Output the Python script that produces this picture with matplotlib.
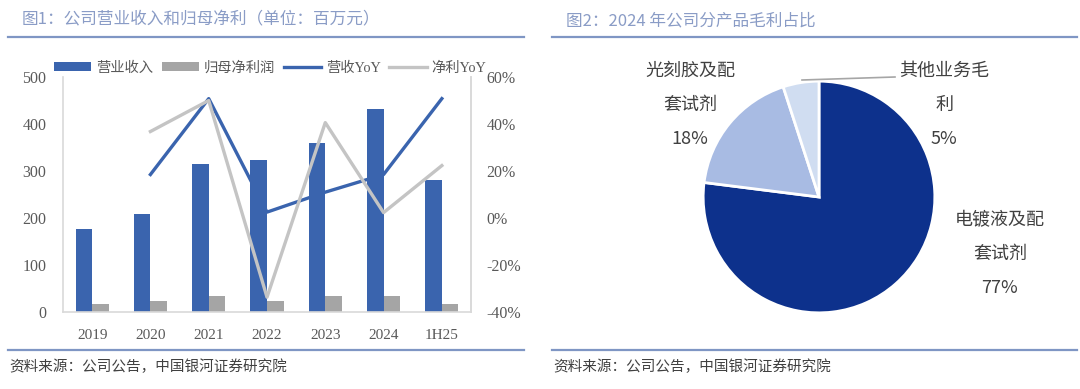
import matplotlib
matplotlib.use("Agg")
import matplotlib.pyplot as plt
import numpy as np
from matplotlib.lines import Line2D

# ---------------- data ----------------
years = ["2019", "2020", "2021", "2022", "2023", "2024", "1H25"]
revenue = [177, 209, 314, 324, 360, 432, 280]
net_profit = [17.5, 24, 35, 24, 33, 34, 17]
revenue_yoy = [np.nan, 18.5, 50.8, 2.5, 11.0, 18.5, 50.8]
net_yoy = [np.nan, 36.8, 50.0, -33.7, 40.6, 2.3, 22.3]
left_ticks = [0, 100, 200, 300, 400, 500]
right_ticks = [-40, -20, 0, 20, 40, 60]

pie_labels = ["电镀液及配\n套试剂", "光刻胶及配\n套试剂", "其他业务毛\n利"]
pie_shares = [77, 18, 5]

title1 = "图1：公司营业收入和归母净利（单位：百万元）"
title2 = "图2：2024 年公司分产品毛利占比"
source = "资料来源：公司公告，中国银河证券研究院"

# ---------------- style ----------------
W, H = 1080, 389
FAM = ["Liberation Serif", "Noto Sans CJK SC"]
SANS = ["Noto Sans CJK SC", "DejaVu Sans"]
plt.rcParams["font.family"] = FAM
BLUE = "#3a64ae"
GRAY_BAR = "#a5a5a5"
GRAY_LINE = "#c4c4c4"
TITLE_C = "#8a9cc6"
RULE_C = "#7f96c4"
TXT = "#595959"

fig = plt.figure(figsize=(W / 100, H / 100), dpi=100)


def fx(px):
    return px / W


def fy(py):
    return 1 - py / H


# ---------------- left chart ----------------
L, R, T, B = 63, 471, 77, 312
ax = fig.add_axes([fx(L), fy(B), fx(R - L), (B - T) / H])
x = np.arange(len(years))
bw = 0.285
ax.bar(x - bw / 2, revenue, bw, color=BLUE, label="营业收入", zorder=2)
ax.bar(x + bw / 2, net_profit, bw, color=GRAY_BAR, label="归母净利润", zorder=2)
ax.set_xlim(-0.5, len(years) - 0.5)
ax.set_ylim(0, 500)
ax.set_yticks(left_ticks)
ax.set_xticks(x)
ax.set_xticklabels(years)
ax.tick_params(axis="y", length=0, pad=12, labelsize=11.5, labelcolor=TXT)
ax.tick_params(axis="x", length=0, pad=12, labelsize=11, labelcolor=TXT)
ax.spines["top"].set_visible(False)
for s in ["left", "right", "bottom"]:
    ax.spines[s].set_color("#d9d9d9")
    ax.spines[s].set_linewidth(1.2)

ax2 = ax.twinx()
ax2.plot(x, revenue_yoy, color=BLUE, lw=2.4, label="营收YoY", zorder=3)
ax2.plot(x, net_yoy, color=GRAY_LINE, lw=2.4, label="净利YoY", zorder=3)
ax2.set_ylim(-40, 60)
ax2.set_yticks(right_ticks)
ax2.set_yticklabels([f"{v}%" for v in right_ticks])
ax2.tick_params(axis="y", length=0, pad=11, labelsize=11.5, labelcolor=TXT)
for s in ["top", "left", "bottom"]:
    ax2.spines[s].set_visible(False)
ax2.spines["right"].set_color("#d9d9d9")
ax2.spines["right"].set_linewidth(1.2)

h1, l1 = ax.get_legend_handles_labels()
h2, l2 = ax2.get_legend_handles_labels()
leg = fig.legend(h1 + h2, l1 + l2, ncol=4, loc="center left",
                 bbox_to_anchor=(fx(54), fy(68)), frameon=False,
                 fontsize=10.3, handlelength=2.6, handleheight=0.6,
                 handletextpad=0.35, columnspacing=0.6, borderaxespad=0,
                 borderpad=0)
for t in leg.get_texts():
    t.set_color(TXT)

# ---------------- titles, rules, sources ----------------
fig.text(fx(22), fy(20), title1, color=TITLE_C, fontsize=12, va="center",
         ha="left", family=SANS)
fig.text(fx(566), fy(21), title2, color=TITLE_C, fontsize=12, va="center",
         ha="left", family=SANS)
for (x0, x1) in [(8, 524), (552, 1077)]:
    fig.add_artist(Line2D([fx(x0), fx(x1)], [fy(37), fy(37)], color=RULE_C,
                          lw=1.6, transform=fig.transFigure))
    fig.add_artist(Line2D([fx(x0), fx(x1)], [fy(350), fy(350)], color=RULE_C,
                          lw=1.6, transform=fig.transFigure))
fig.text(fx(9), fy(367), source, color="#404040", fontsize=10.5, va="center",
         ha="left", family=SANS, style="italic")
fig.text(fx(553), fy(367), source, color="#404040", fontsize=10.5, va="center",
         ha="left", family=SANS, style="italic")

# ---------------- pie ----------------
cx, cy, r = 819, 197, 117
pax = fig.add_axes([fx(cx - r), fy(cy + r), fx(2 * r), 2 * r / H])
pax.pie(pie_shares, colors=["#0d318c", "#a8bbe3", "#d0ddf1"], startangle=90,
        counterclock=False, radius=1,
        wedgeprops=dict(edgecolor="white", linewidth=2))
pax.set_xlim(-1.01, 1.01)
pax.set_ylim(-1.01, 1.01)
pax.axis("off")

label_pos = [(1000, [220, 254, 288]), (690, [71, 105, 139]), (944, [71, 105, 139])]
for lab, share, (lx, ys) in zip(pie_labels, pie_shares, label_pos):
    lines = lab.split("\n") + [f"{share}%"]
    for ln, yy in zip(lines, ys):
        fig.text(fx(lx), fy(yy), ln, ha="center", va="center", fontsize=13,
                 color="#404040", family=SANS)

fig.add_artist(Line2D([fx(802), fx(895)], [fy(80), fy(77)], color="#a6a6a6",
                      lw=1.2, transform=fig.transFigure))

fig.savefig("out.png", dpi=100)
